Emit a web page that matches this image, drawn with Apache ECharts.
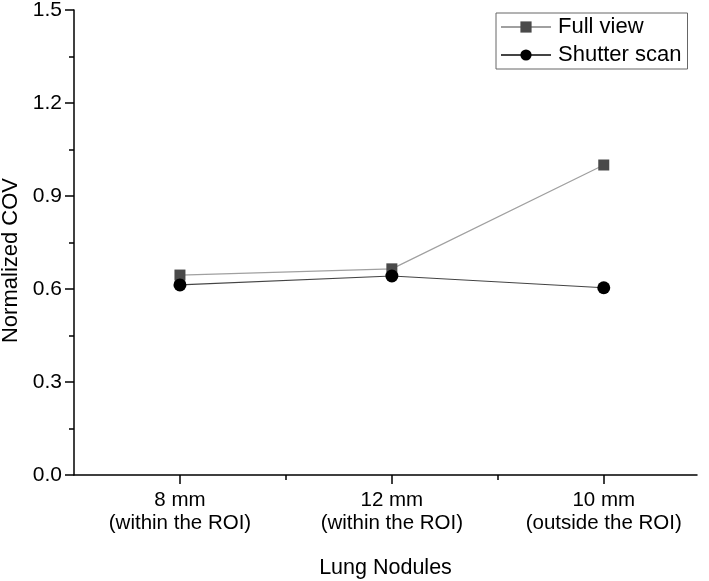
<!DOCTYPE html>
<html>
<head>
<meta charset="utf-8">
<script src="https://cdn.jsdelivr.net/npm/echarts@6/dist/echarts.min.js"></script>
<style>html,body{margin:0;padding:0;background:#fff;}#c{width:709px;height:581px;}</style>
</head>
<body>
<div id="c"></div>
<script>
var categories = ['8 mm\n(within the ROI)', '12 mm\n(within the ROI)', '10 mm\n(outside the ROI)'];
var xPositions = [1, 2, 3];
var fullView = [0.645, 0.665, 1.0];
var shutterScan = [0.613, 0.642, 0.604];
var yTicks = [0, 0.3, 0.6, 0.9, 1.2, 1.5];

var FONT = "'Liberation Sans', Arial, sans-serif";
function pairs(vals) { return xPositions.map(function (x, i) { return [x, vals[i]]; }); }

var chart = echarts.init(document.getElementById('c'), null, { renderer: 'canvas' });
chart.setOption({
  animation: false,
  backgroundColor: '#fff',
  textStyle: { fontFamily: FONT },
  grid: { left: 74, right: 12, top: 10, bottom: 106, containLabel: false, outerBoundsMode: 'none' },
  legend: {
    orient: 'vertical',
    left: 496, top: 13,
    padding: [3, 6, 3, 4],
    itemGap: 6,
    itemWidth: 50, itemHeight: 14,
    borderColor: '#666', borderWidth: 1,
    textStyle: { fontFamily: FONT, fontSize: 22, color: '#000', padding: [0, 0, 0, 2] },
    data: ['Full view', 'Shutter scan']
  },
  xAxis: [{
    type: 'value', min: 0.5, max: 3.44,
    name: 'Lung Nodules', nameLocation: 'middle', nameGap: 82,
    nameTextStyle: { fontFamily: FONT, fontSize: 21.5, color: '#000' },
    axisLine: { show: true, lineStyle: { color: '#000', width: 1.5 } },
    axisTick: { show: true, length: 9, customValues: xPositions, lineStyle: { color: '#000', width: 1.5 } },
    axisLabel: {
      show: true, customValues: xPositions, margin: 14,
      fontFamily: FONT, fontSize: 20.5, color: '#000', lineHeight: 23,
      formatter: function (v) { var i = xPositions.indexOf(v); return i >= 0 ? categories[i] : ''; }
    },
    splitLine: { show: false }
  }, {
    type: 'value', min: 0.5, max: 3.44, position: 'bottom',
    axisLine: { show: false },
    axisTick: { show: true, length: 5, customValues: [1.5, 2.5], lineStyle: { color: '#000', width: 1.5 } },
    axisLabel: { show: false },
    splitLine: { show: false }
  }],
  yAxis: {
    type: 'value', min: 0, max: 1.5, interval: 0.3,
    name: 'Normalized COV', nameLocation: 'middle', nameGap: 50,
    nameTextStyle: { fontFamily: FONT, fontSize: 22, color: '#000', padding: [0, 36, 0, 0] },
    axisLine: { show: true, lineStyle: { color: '#000', width: 1.5 } },
    axisTick: { show: true, length: 9, lineStyle: { color: '#000', width: 1.5 } },
    minorTick: { show: true, splitNumber: 2, length: 5, lineStyle: { color: '#000', width: 1.5 } },
    axisLabel: {
      margin: 12, fontFamily: FONT, fontSize: 21, color: '#000',
      formatter: function (v) { return v.toFixed(1); }
    },
    splitLine: { show: false }
  },
  series: [{
    name: 'Full view', type: 'line', xAxisIndex: 0,
    data: pairs(fullView),
    symbol: 'rect', symbolSize: 11,
    itemStyle: { color: '#4a4a4a' },
    lineStyle: { color: '#a0a0a0', width: 1.2 },
    z: 2
  }, {
    name: 'Shutter scan', type: 'line', xAxisIndex: 0,
    data: pairs(shutterScan),
    symbol: 'circle', symbolSize: 13,
    itemStyle: { color: '#000' },
    lineStyle: { color: '#444', width: 1.2 },
    z: 3
  }]
});
</script>
</body>
</html>
